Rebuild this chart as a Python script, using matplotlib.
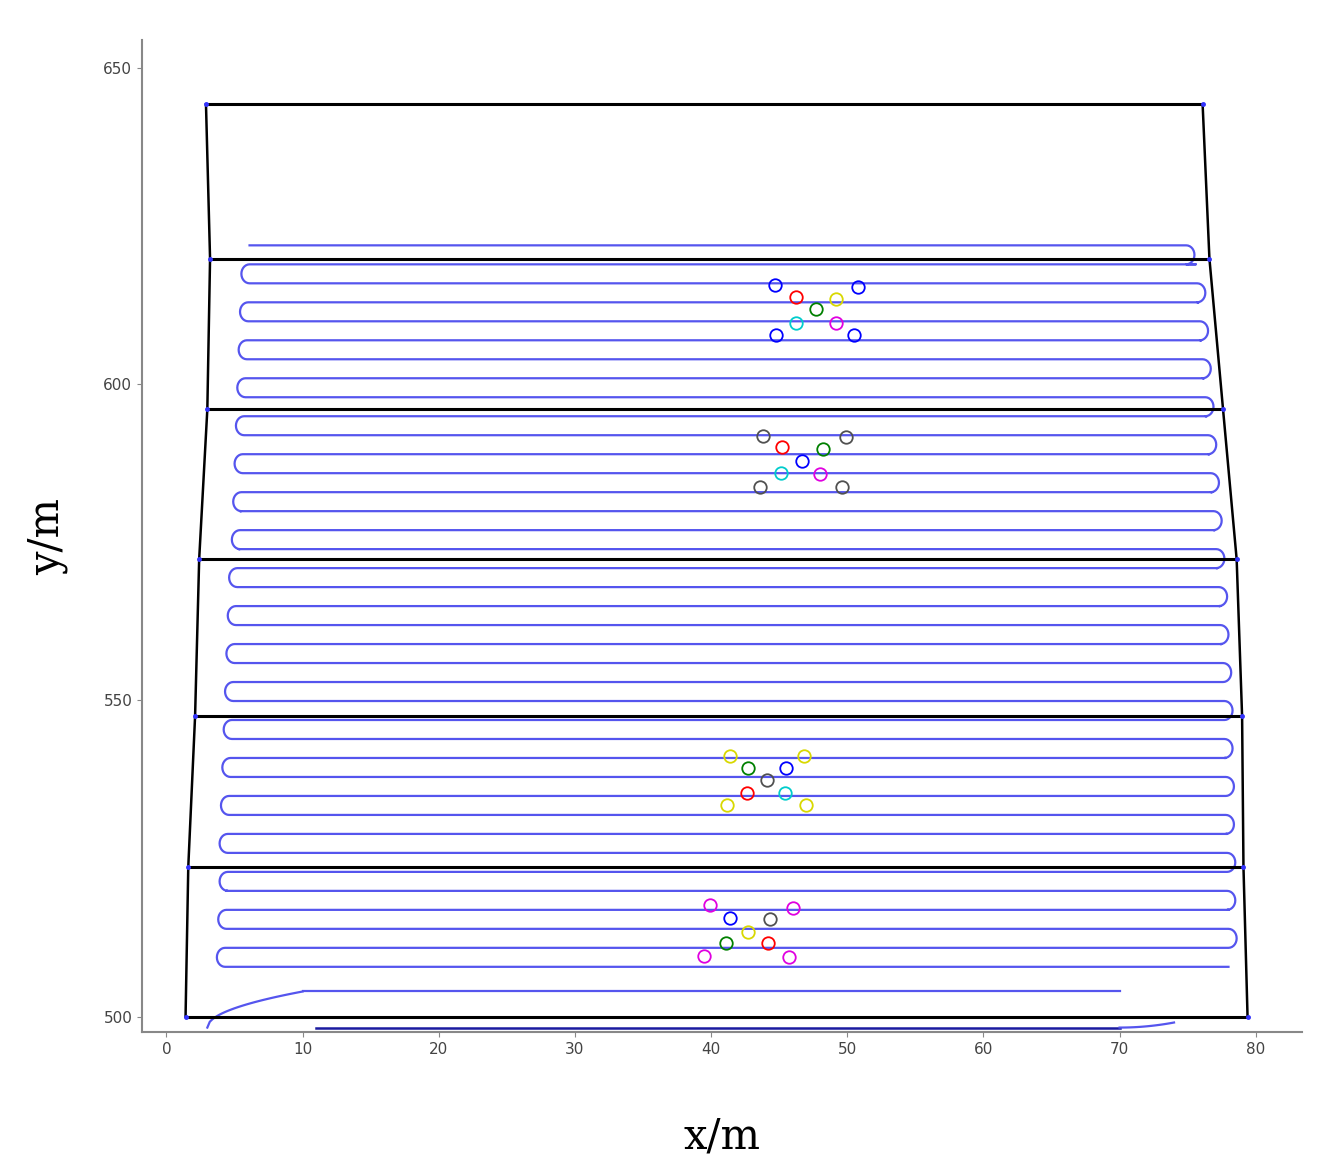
import numpy as np
import matplotlib
matplotlib.use("Agg")
import matplotlib.pyplot as plt

# field boundary (corners along left and right edges), y levels of strip lines
strip_y = [644.2, 619.8, 596.0, 572.3, 547.5, 523.7, 500.0]
left_x = [2.9, 3.2, 3.0, 2.4, 2.1, 1.6, 1.4]
right_x = [76.1, 76.6, 77.6, 78.6, 79.0, 79.1, 79.4]

# serpentine rows of the path
row_y = [621.9, 618.9, 615.9, 612.9, 609.9, 606.9, 603.9, 600.9, 597.9, 594.9,
         591.9, 588.9, 585.9, 582.9, 579.9, 576.9, 573.9, 570.9, 567.9, 564.9,
         561.9, 558.9, 555.9, 552.9, 549.9, 546.9, 543.9, 540.9, 537.9, 534.9,
         531.9, 528.9, 525.9, 522.9, 519.9, 516.9, 513.9, 510.9, 507.9]
row_left = [6.1, 6.1, 6.1, 6.0, 6.0, 5.9, 5.9, 5.8, 5.8, 5.7, 5.7, 5.6, 5.6, 5.5, 5.4,
            5.4, 5.3, 5.2, 5.2, 5.1, 5.1, 5.0, 5.0, 4.9, 4.9, 4.8, 4.8, 4.7, 4.7, 4.6,
            4.6, 4.5, 4.5, 4.5, 4.4, 4.4, 4.4, 4.3, 4.3]
row_right = [74.9, 75.6, 75.7, 75.8, 75.9, 76.0, 76.1, 76.2, 76.3, 76.4, 76.5, 76.6,
             76.7, 76.8, 76.9, 77.0, 77.1, 77.2, 77.3, 77.4, 77.4, 77.5, 77.6, 77.6,
             77.7, 77.7, 77.7, 77.8, 77.8, 77.8, 77.8, 77.9, 77.9, 77.9, 77.9, 78.0,
             78.0, 78.0, 78.0]
last_row_y = 504.0
last_row_x = [10.0, 70.0]

# circle markers: (x, y, color)
mk_x = [44.7, 50.8, 46.25, 49.2, 47.7, 46.25, 49.2, 44.8, 50.5,
        43.8, 49.9, 45.2, 48.2, 46.7, 45.1, 48.0, 43.6, 49.6,
        41.4, 46.8, 42.7, 45.5, 44.1, 42.6, 45.4, 41.2, 47.0,
        39.9, 46.0, 41.4, 44.3, 42.7, 41.1, 44.2, 39.5, 45.7]
mk_y = [615.7, 615.3, 613.7, 613.4, 611.8, 609.6, 609.6, 607.8, 607.8,
        591.7, 591.6, 590.0, 589.7, 587.9, 585.9, 585.7, 583.7, 583.7,
        541.2, 541.2, 539.3, 539.3, 537.4, 535.4, 535.4, 533.5, 533.5,
        517.7, 517.2, 515.6, 515.5, 513.4, 511.7, 511.7, 509.6, 509.5]
mk_c = ['b', 'b', 'r', 'y', 'g', 'c', 'm', 'b', 'b',
        'gray', 'gray', 'r', 'g', 'b', 'c', 'm', 'gray', 'gray',
        'y', 'y', 'g', 'b', 'gray', 'r', 'c', 'y', 'y',
        'm', 'm', 'b', 'gray', 'y', 'g', 'r', 'm', 'm']
colmap = {'b': '#0000ff', 'r': '#ff0000', 'y': '#d8d800', 'g': '#008000',
          'c': '#00cccc', 'm': '#e000e0', 'gray': '#505050'}

fig = plt.figure(figsize=(13.42, 11.75), dpi=100)
ax = fig.add_axes([0.1058, 0.1217, 0.8644, 0.844])

# path
px, py = [], []
n = len(row_y)
for i in range(n):
    y = row_y[i]
    xs = [row_left[i], row_right[i]] if i % 2 == 0 else [row_right[i], row_left[i]]
    px += xs
    py += [y, y]
    if i < n - 1:
        y2 = row_y[i + 1]
        cy = (y + y2) / 2
        r = (y - y2) / 2
        t = np.linspace(np.pi / 2, -np.pi / 2, 15)
        sgn = 1 if i % 2 == 0 else -1
        px += list(xs[1] + sgn * 0.6 * np.cos(t))
        py += list(cy + r * np.sin(t))
ax.plot(px, py, color='#5555ee', lw=1.6)
ax.plot(last_row_x, [last_row_y, last_row_y], color='#5555ee', lw=1.6)
# entrance/exit curves at bottom
t = np.linspace(0, 1, 40)
ax.plot(3 + 7 * t, 498.3 + 5.7 * np.sqrt(t), color='#5555ee', lw=1.6)
ax.plot(11 + 59 * t, 498.3 + 0 * t, color='#1a1aa0', lw=1.8)
ax.plot(70 + 4 * t, 498.3 + 0.8 * t ** 2, color='#5555ee', lw=1.6)

# field boundary
for k in range(len(strip_y)):
    ax.plot([left_x[k], right_x[k]], [strip_y[k], strip_y[k]], color='k', lw=2.2)
ax.plot(left_x, strip_y, color='k', lw=1.8)
ax.plot(right_x, strip_y, color='k', lw=1.8)
ax.plot(left_x + right_x, strip_y + strip_y, '.', color='#3333ff', ms=5)

for x, y, c in zip(mk_x, mk_y, mk_c):
    ax.plot(x, y, 'o', mfc='none', mec=colmap[c], ms=9, mew=1.3)

ax.set_xlim(-1.8, 83.4)
ax.set_ylim(497.6, 654.3)
ax.set_xticks(range(0, 81, 10))
ax.set_yticks([500, 550, 600, 650])
for s in ['top', 'right']:
    ax.spines[s].set_visible(False)
for s in ['left', 'bottom']:
    ax.spines[s].set_color('#888888')
    ax.spines[s].set_linewidth(1.5)
ax.tick_params(direction='out', colors='#888888', labelcolor='#444444', labelsize=11)
ax.set_xlabel('x/m', family='DejaVu Serif', fontsize=30, labelpad=42)
ax.set_ylabel('y/m', family='DejaVu Serif', fontsize=30, labelpad=25)
fig.savefig('out.png', dpi=100)
